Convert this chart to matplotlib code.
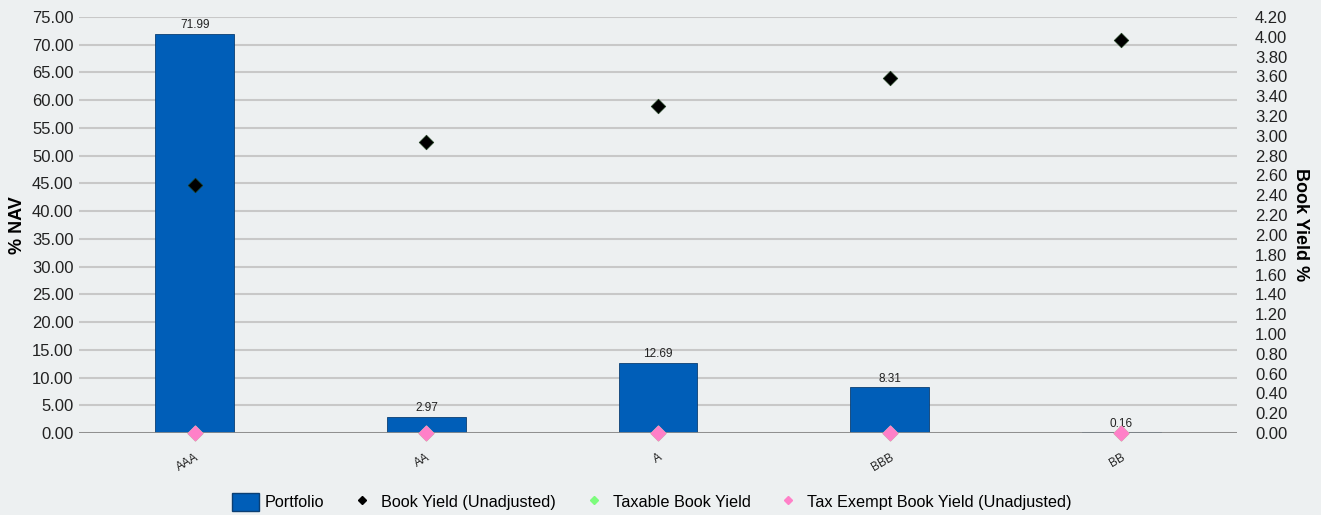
import matplotlib
matplotlib.use("Agg")
import matplotlib.pyplot as plt
import numpy as np
from matplotlib.lines import Line2D
from matplotlib.patches import Patch

plt.rcParams["font.family"] = ["Liberation Sans", "DejaVu Sans"]

categories = ["AAA", "AA", "A", "BBB", "BB"]
portfolio = [71.99, 2.97, 12.69, 8.31, 0.16]
book_yield = [2.50, 2.94, 3.30, 3.58, 3.97]
taxable_yield = [0.0, 0.0, 0.0, 0.0, 0.0]
tax_exempt_yield = [0.0, 0.0, 0.0, 0.0, 0.0]
left_ticks = np.arange(0, 75.01, 5)
right_ticks = np.arange(0, 4.201, 0.2)

bg = "#EDF0F1"
bar_color = "#005EB8"
fig = plt.figure(figsize=(13.21, 5.15), dpi=100, facecolor=bg)
ax = fig.add_axes([79/1321, 1-433/515, (1237-79)/1321, (433-17)/515])
ax.set_facecolor(bg)
x = np.arange(len(categories))
bars = ax.bar(x, portfolio, width=0.34, color=bar_color, edgecolor="#0B3F73", linewidth=0.6, zorder=3)
for xi, v in zip(x, portfolio):
    ax.text(xi, v + 0.4, f"{v:.2f}", ha="center", va="bottom", fontsize=8.5, color="#222222", zorder=5)
ax.set_xlim(-0.5, len(categories) - 0.5)
ax.set_ylim(0, 75)
ax.set_yticks(left_ticks)
ax.set_yticklabels([f"{t:.2f}" for t in left_ticks], fontsize=12, color="#222222")
ax.set_xticks(x)
ax.set_xticklabels(categories, rotation=30, fontsize=8.5, ha="right", rotation_mode="anchor", color="#222222")
ax.tick_params(axis="x", length=0, pad=13)
ax.tick_params(axis="y", length=0, pad=4)
ax.grid(axis="y", color="#C8C8C8", linewidth=1.5, zorder=0)
ax.axhline(0, color="#8A8A8A", linewidth=2.0, zorder=4)
for s in ax.spines.values():
    s.set_visible(False)
fig.text(17/1321, 1-225/515, "% NAV", fontsize=13, fontweight="bold", rotation=90, ha="center", va="center")

ax2 = ax.twinx()
ax2.set_ylim(0, 4.2)
ax2.set_yticks(right_ticks)
ax2.set_yticklabels([f"{t:.2f}" for t in right_ticks], fontsize=12, color="#222222")
ax2.tick_params(axis="y", length=0, pad=13)
for s in ax2.spines.values():
    s.set_visible(False)
ax2.scatter(x, book_yield, marker="D", s=55, color="black", edgecolor="#1a3a1a", linewidth=0.5, zorder=6)
ax2.scatter(x, taxable_yield, marker="D", s=55, color="#7CFC7C", zorder=6, clip_on=False)
ax2.scatter(x, tax_exempt_yield, marker="D", s=55, color="#FF80C8", zorder=7, clip_on=False)
fig.text(1300/1321, 1-225/515, "Book Yield %", fontsize=13, fontweight="bold", rotation=270, ha="center", va="center")

handles = [
    Patch(facecolor=bar_color, edgecolor="#0B3F73", label="Portfolio"),
    Line2D([], [], marker="D", linestyle="none", color="black", markersize=4.3, label="Book Yield (Unadjusted)"),
    Line2D([], [], marker="D", linestyle="none", color="#7CFC7C", markersize=4.3, label="Taxable Book Yield"),
    Line2D([], [], marker="D", linestyle="none", color="#FF80C8", markersize=4.3, label="Tax Exempt Book Yield (Unadjusted)"),
]
fig.legend(handles=handles, loc="center", bbox_to_anchor=(652/1321, 1-502/515), ncol=4, frameon=False,
           fontsize=11.7, handlelength=1.65, handleheight=1.25, columnspacing=1.5, handletextpad=0.35)
fig.savefig("out.png", dpi=100, facecolor=bg)
